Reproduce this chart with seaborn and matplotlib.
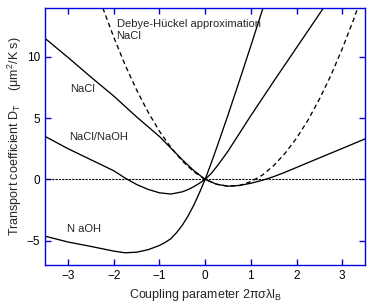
import numpy as np
import pandas as pd
import matplotlib
matplotlib.use('Agg')
import matplotlib.pyplot as plt
import seaborn as sns

sns.set_style('ticks')
plt.rcParams['font.family'] = ['Liberation Sans', 'DejaVu Sans']
plt.rcParams['mathtext.fontset'] = 'custom'
plt.rcParams['mathtext.rm'] = 'Liberation Sans'
plt.rcParams['mathtext.it'] = 'Liberation Sans'

# values
x_nacl = [-3.5, -3.0, -2.5, -2.0, -1.5, -1.0, -0.75, -0.5, -0.25, 0.0, 0.25, 0.5, 0.75, 1.0, 1.25, 1.5, 1.75, 2.0, 2.5, 3.0, 3.5]
y_nacl = [11.5, 9.95, 8.35, 6.8, 5.1, 3.5, 2.55, 1.6, 0.72, 0.0, -0.4, -0.56, -0.5, -0.32, -0.08, 0.22, 0.58, 0.97, 1.75, 2.52, 3.3]

x_mix = [-3.5, -3.0, -2.5, -2.0, -1.75, -1.5, -1.25, -1.0, -0.75, -0.5, -0.375, -0.25, -0.125, 0.0,
         0.125, 0.25, 0.375, 0.5, 0.75, 1.0, 1.5, 2.0, 2.5, 2.7]
y_mix = [3.5, 2.5, 1.6, 0.7, 0.1, -0.42, -0.82, -1.1, -1.2, -1.02, -0.84, -0.6, -0.32, 0.0,
         0.45, 1.02, 1.65, 2.3, 3.75, 5.2, 8.0, 10.75, 13.5, 14.6]

x_naoh = [-3.5, -3.0, -2.5, -2.0, -1.75, -1.5, -1.25, -1.0, -0.875, -0.75, -0.625, -0.5, -0.375, -0.25, -0.125, 0.0,
          0.125, 0.25, 0.5, 0.75, 1.0, 1.25, 1.4]
y_naoh = [-4.65, -5.12, -5.48, -5.86, -6.0, -5.95, -5.75, -5.4, -5.15, -4.85, -4.35, -3.75, -3.0, -2.12, -1.1, 0.0,
          1.25, 2.55, 5.25, 8.05, 10.9, 13.8, 15.5]

x_dh = [-2.3, -2.0, -1.75, -1.5, -1.25, -1.0, -0.75, -0.5, -0.25, 0.0, 0.25, 0.5, 0.75, 1.0, 1.25, 1.5, 1.75, 2.0, 2.25, 2.5, 2.75, 3.0, 3.25, 3.5]
y_dh = [14.6, 11.6, 9.33, 7.3, 5.5, 3.93, 2.6, 1.5, 0.63, 0.0, -0.4, -0.56, -0.5, -0.19, 0.34, 1.12, 2.13, 3.36, 4.83, 6.54, 8.47, 10.65, 13.05, 15.7]

blue = '#0000e0'

fig, ax = plt.subplots(figsize=(3.74, 3.05), dpi=100)
fig.subplots_adjust(left=0.121, right=0.976, top=0.974, bottom=0.131)

ax.axhline(0, color='black', lw=0.8, ls=(0, (2, 1)))

for xs, ys in [(x_nacl, y_nacl), (x_mix, y_mix), (x_naoh, y_naoh)]:
    df = pd.DataFrame({'x': xs, 'y': ys})
    sns.lineplot(data=df, x='x', y='y', ax=ax, color='black', lw=0.95, estimator=None)

dh = pd.DataFrame({'x': x_dh, 'y': y_dh})
sns.lineplot(data=dh, x='x', y='y', ax=ax, color='black', lw=0.95, estimator=None,
             dashes=False, linestyle=(0, (3.5, 2.5)))

ax.set_xlim(-3.5, 3.5)
ax.set_ylim(-7, 14)
ax.set_xticks([-3, -2, -1, 0, 1, 2, 3])
ax.set_yticks([-5, 0, 5, 10])

for s in ax.spines.values():
    s.set_color(blue)
    s.set_linewidth(1.0)
ax.tick_params(direction='in', length=4, width=1.0, color=blue, labelsize=8.5,
               top=True, right=True, labelcolor='black')

ax.set_xlabel('Coupling parameter 2πσλl$_\\mathrm{B}$', fontsize=9)
ax.set_ylabel('Transport coefficient D$_\\mathrm{T}$    (μm$^2$/K s)', fontsize=9, labelpad=2)

ax.text(-1.94, 12.65, 'Debye-Hückel approximation', fontsize=8, va='center', ha='left')
ax.text(-1.94, 11.7, 'NaCl', fontsize=8, va='center', ha='left')
ax.text(-2.96, 7.4, 'NaCl', fontsize=8, va='center', ha='left')
ax.text(-2.98, 3.45, 'NaCl/NaOH', fontsize=8, va='center', ha='left')
ax.text(-3.02, -4.07, 'N aOH', fontsize=8, va='center', ha='left')

fig.savefig('out.png', dpi=100)
